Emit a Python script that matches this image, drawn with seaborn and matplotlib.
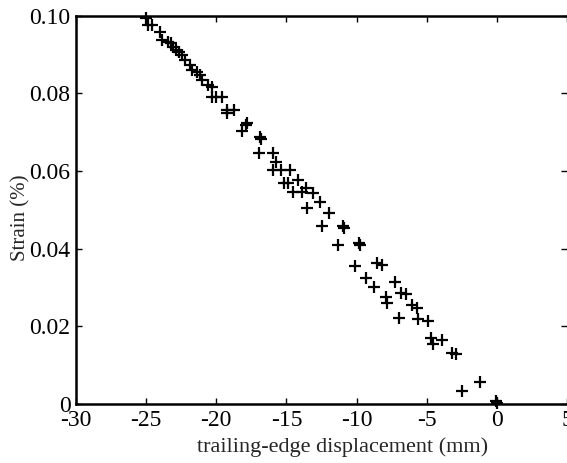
import matplotlib
matplotlib.use("Agg")
import numpy as np
import pandas as pd
import seaborn as sns
import matplotlib.pyplot as plt
from matplotlib.ticker import FuncFormatter

# trailing-edge displacement (mm)
displacement = [-25.01, -24.87, -24.58, -24.01, -23.87, -23.44, -23.23, -23.09,
                -22.87, -22.66, -22.44, -22.23, -21.87, -21.73, -21.38, -21.16,
                -21.02, -20.59, -20.31, -20.31, -20.02, -19.59, -19.24, -18.74,
                -19.24, -18.17, -17.81, -17.88, -16.89, -16.81, -16.96, -15.96,
                -15.75, -15.96, -15.39, -14.75, -15.17, -14.89, -14.18, -14.53,
                -13.89, -13.61, -13.11, -12.61, -13.54, -11.97, -12.47, -10.97,
                -10.90, -11.33, -9.83, -9.76, -10.11, -8.55, -8.19, -9.33,
                -7.26, -8.76, -7.90, -7.83, -6.84, -6.48, -6.05, -5.70,
                -6.98, -5.62, -4.91, -4.70, -4.55, -3.91, -3.20, -2.92,
                -2.49, -1.21, -0.06, 0.01]

# strain (%)
strain = [0.0994, 0.0976, 0.0976, 0.0958, 0.0937, 0.0932, 0.0929, 0.0919,
          0.0911, 0.0906, 0.0898, 0.0885, 0.0873, 0.0860, 0.0855, 0.0847,
          0.0834, 0.0821, 0.0816, 0.0790, 0.0790, 0.0790, 0.0757, 0.0757,
          0.0749, 0.0703, 0.0723, 0.0718, 0.0687, 0.0682, 0.0646, 0.0646,
          0.0623, 0.0602, 0.0602, 0.0602, 0.0569, 0.0569, 0.0577, 0.0546,
          0.0546, 0.0556, 0.0543, 0.0520, 0.0504, 0.0492, 0.0458, 0.0458,
          0.0453, 0.0409, 0.0414, 0.0409, 0.0355, 0.0363, 0.0358, 0.0324,
          0.0314, 0.0301, 0.0275, 0.0260, 0.0286, 0.0283, 0.0255, 0.0247,
          0.0221, 0.0219, 0.0214, 0.0170, 0.0154, 0.0165, 0.0131, 0.0129,
          0.0033, 0.0057, 0.0008, 0.0003]

x_ticks = [-30, -25, -20, -15, -10, -5, 0, 5]
y_ticks = [0, 0.02, 0.04, 0.06, 0.08, 0.10]

df = pd.DataFrame({'displacement': displacement, 'strain': strain})

sns.set_style('ticks')
plt.rcParams['font.family'] = ['Liberation Serif', 'DejaVu Serif']
plt.rcParams['axes.unicode_minus'] = False

fig = plt.figure(figsize=(5.67, 4.63), dpi=100)
ax = fig.add_axes([76/567, 1 - 404/463, 491/567, 388.5/463])

sns.scatterplot(data=df, x='displacement', y='strain', marker='+',
                color='black', s=70, linewidth=1.6, ax=ax, clip_on=False,
                legend=False)

ax.set_xlim(-30, 5)
ax.set_ylim(0, 0.10)
ax.set_xticks(x_ticks)
ax.set_yticks(y_ticks)
ax.yaxis.set_major_formatter(FuncFormatter(lambda v, p: '0' if v == 0 else f'{v:.2f}'))

ax.tick_params(direction='in', top=True, right=True, length=4, width=1,
               labelsize=17, colors='black', pad=4)

for side in ['left', 'bottom', 'top']:
    ax.spines[side].set_linewidth(1.8)
    ax.spines[side].set_color('black')
ax.spines['right'].set_visible(False)

ax.set_xlabel('trailing-edge displacement (mm)', fontsize=16)
ax.set_ylabel('Strain (%)', fontsize=15)
ax.xaxis.set_label_coords(0.542, -0.085)
ax.yaxis.set_label_coords(-0.092, 0.48)

fig.savefig('out.png', dpi=100)
